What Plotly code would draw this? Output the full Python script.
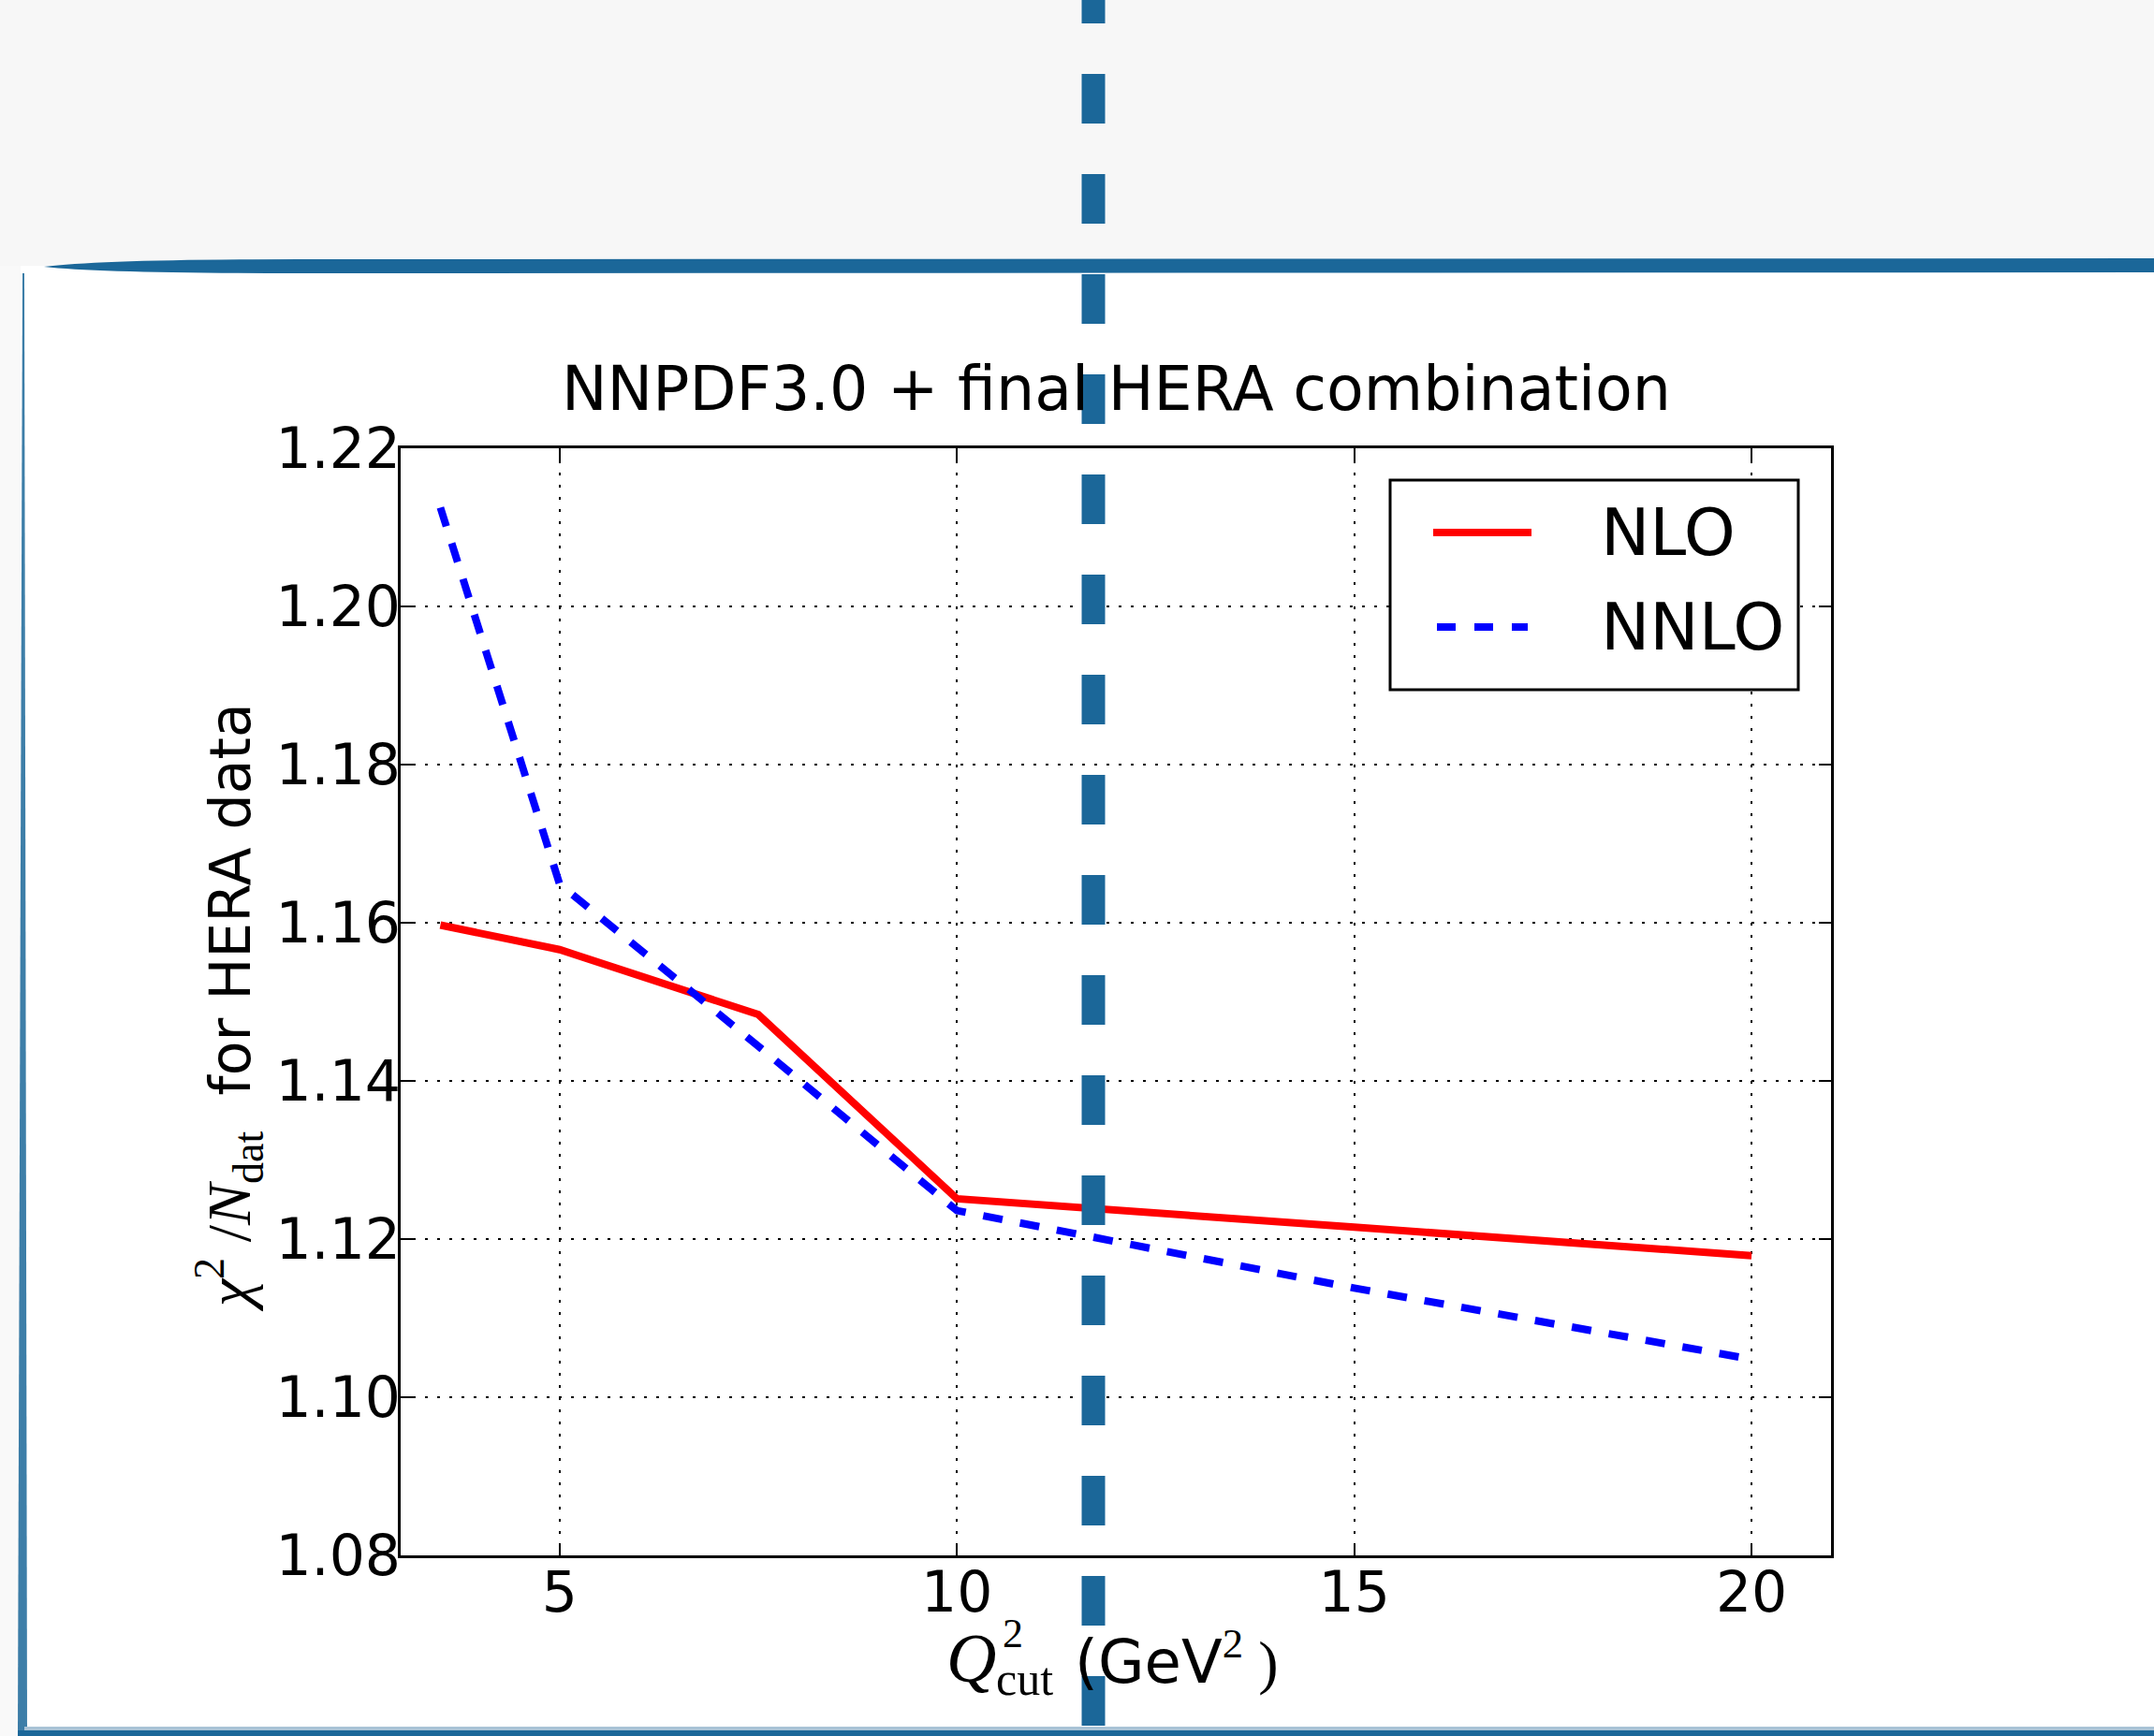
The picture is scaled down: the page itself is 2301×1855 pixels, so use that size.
import plotly.graph_objects as go

# ---- data ----
q2_cut = [3.5, 5, 7.5, 10, 15, 20]
chi2_nlo = [1.1597, 1.1566, 1.1484, 1.1251, 1.1215, 1.1179]
chi2_nnlo = [1.2125, 1.1649, 1.1444, 1.1236, 1.1138, 1.1048]
x_ticks = [5, 10, 15, 20]
y_ticks = [1.08, 1.10, 1.12, 1.14, 1.16, 1.18, 1.20, 1.22]
series_names = ["NLO", "NNLO"]
title_text = "NNPDF3.0 + final HERA combination"

# ---- geometry ----
W, H = 2301, 1855
L, R, T, B = 428, 1956, 479, 1662
SLIDE_BLUE = "#1b6799"
SERIF = "Liberation Serif"
SANS = "DejaVu Sans"


def px(x):
    return (x - L) / (R - L)


def py(y):
    return (B - y) / (B - T)


fig = go.Figure()
fig.add_trace(go.Scatter(x=q2_cut, y=chi2_nlo, mode="lines", name=series_names[0],
                         line=dict(color="#ff0000", width=8), showlegend=False))
fig.add_trace(go.Scatter(x=q2_cut, y=chi2_nnlo, mode="lines", name=series_names[1],
                         line=dict(color="#0000ff", width=8, dash="21px,19px"), showlegend=False))

axis_common = dict(
    showline=True, linecolor="black", linewidth=3, mirror="ticks",
    ticks="inside", ticklen=13, tickwidth=2, tickcolor="black",
    showgrid=True, gridcolor="black", gridwidth=2, griddash="3px,10px",
    zeroline=False, tickfont=dict(family=SANS, size=60, color="black"),
)
fig.update_xaxes(range=[3, 21], tickvals=x_ticks, ticktext=[str(v) for v in x_ticks],
                 ticklabelstandoff=-15, **axis_common)
fig.update_yaxes(range=[1.08, 1.22], tickvals=y_ticks,
                 ticktext=["%.2f" % v for v in y_ticks], ticklabelstandoff=-15, **axis_common)

shapes = []
# slide background decorations
shapes.append(dict(type="rect", xref="paper", yref="paper", x0=px(0), x1=px(W), y0=py(0), y1=py(284),
                   fillcolor="#f7f7f7", line=dict(width=0), layer="below"))
shapes.append(dict(type="rect", xref="paper", yref="paper", x0=px(0), x1=px(22), y0=py(284), y1=py(H),
                   fillcolor="#f9f9f9", line=dict(width=0), layer="below"))


def P(x, y):
    return "%f,%f" % (px(x), py(y))


band_path = ("M " + P(47, 285) + " Q " + P(110, 277) + " " + P(320, 277) + " L " + P(W, 276)
             + " L " + P(W, 291) + " L " + P(320, 292) + " Q " + P(110, 292) + " " + P(47, 285) + " Z")
shapes.append(dict(type="path", xref="paper", yref="paper", path=band_path,
                   fillcolor=SLIDE_BLUE, line=dict(width=0), layer="above"))
left_path = "M " + P(24, 292) + " L " + P(26, 292) + " L " + P(29, 1850) + " L " + P(19, 1850) + " Z"
shapes.append(dict(type="path", xref="paper", yref="paper", path=left_path,
                   fillcolor=SLIDE_BLUE, opacity=0.85, line=dict(width=0), layer="above"))
shapes.append(dict(type="rect", xref="paper", yref="paper", x0=px(26), x1=px(W), y0=py(1845), y1=py(1849),
                   fillcolor="#a9c3d6", line=dict(width=0), layer="above"))
shapes.append(dict(type="rect", xref="paper", yref="paper", x0=px(19), x1=px(W), y0=py(1849), y1=py(H + 2),
                   fillcolor=SLIDE_BLUE, line=dict(width=0), layer="above"))

# legend box
shapes.append(dict(type="rect", xref="paper", yref="paper", x0=px(1485), x1=px(1921), y0=py(513), y1=py(737),
                   fillcolor="white", line=dict(color="black", width=3), layer="above"))
shapes.append(dict(type="line", xref="paper", yref="paper", x0=px(1531), x1=px(1636), y0=py(569), y1=py(569),
                   line=dict(color="#ff0000", width=8), layer="above"))
shapes.append(dict(type="line", xref="paper", yref="paper", x0=px(1535), x1=px(1632), y0=py(670), y1=py(670),
                   line=dict(color="#0000ff", width=8, dash="20px,20px"), layer="above"))

# overlaid slide dashed marker
shapes.append(dict(type="line", xref="paper", yref="paper", x0=px(1168), x1=px(1168), y0=py(-28), y1=py(1852),
                   line=dict(color=SLIDE_BLUE, width=25, dash="53px,54px"), layer="above"))

annotations = []
annotations.append(dict(xref="paper", yref="paper", x=0.5, y=py(415), text=title_text, showarrow=False,
                        xanchor="center", yanchor="middle", font=dict(family=SANS, size=65, color="black")))
# legend labels
annotations.append(dict(xref="paper", yref="paper", x=px(1708), y=py(569), text=series_names[0], showarrow=False,
                        xanchor="left", yanchor="middle", font=dict(family=SANS, size=70, color="black")))
annotations.append(dict(xref="paper", yref="paper", x=px(1708), y=py(670), text=series_names[1], showarrow=False,
                        xanchor="left", yanchor="middle", font=dict(family=SANS, size=70, color="black")))
# y label
ylab = ('<span style="font-family:%s;font-size:66px"><i>χ</i><sup>2</sup> /<i>N</i><sub>dat</sub></span>'
        '  for HERA data') % SERIF
annotations.append(dict(xref="paper", yref="paper", x=px(244), y=py(1077), text=ylab, showarrow=False,
                        textangle=-90, xanchor="center", yanchor="middle",
                        font=dict(family=SANS, size=60, color="black")))
# x label pieces
annotations.append(dict(xref="paper", yref="paper", x=px(1037), y=py(1772), text="<i>Q</i>", showarrow=False,
                        xanchor="center", yanchor="middle", font=dict(family=SERIF, size=74, color="black")))
annotations.append(dict(xref="paper", yref="paper", x=px(1082), y=py(1745), text="2", showarrow=False,
                        xanchor="center", yanchor="middle", font=dict(family=SERIF, size=44, color="black")))
annotations.append(dict(xref="paper", yref="paper", x=px(1094), y=py(1794), text="cut", showarrow=False,
                        xanchor="center", yanchor="middle", font=dict(family=SERIF, size=50, color="black")))
annotations.append(dict(xref="paper", yref="paper", x=px(1146), y=py(1772),
                        text='(GeV<span style="font-family:%s"><sup>2</sup> )</span>' % SERIF,
                        showarrow=False, xanchor="left", yanchor="middle",
                        font=dict(family=SANS, size=64, color="black")))

fig.update_layout(
    width=W, height=H, autosize=False,
    margin=dict(l=L, r=W - R, t=T, b=H - B, pad=0),
    paper_bgcolor="white", plot_bgcolor="white",
    shapes=shapes, annotations=annotations, showlegend=False,
)

fig.write_html("out.html")
